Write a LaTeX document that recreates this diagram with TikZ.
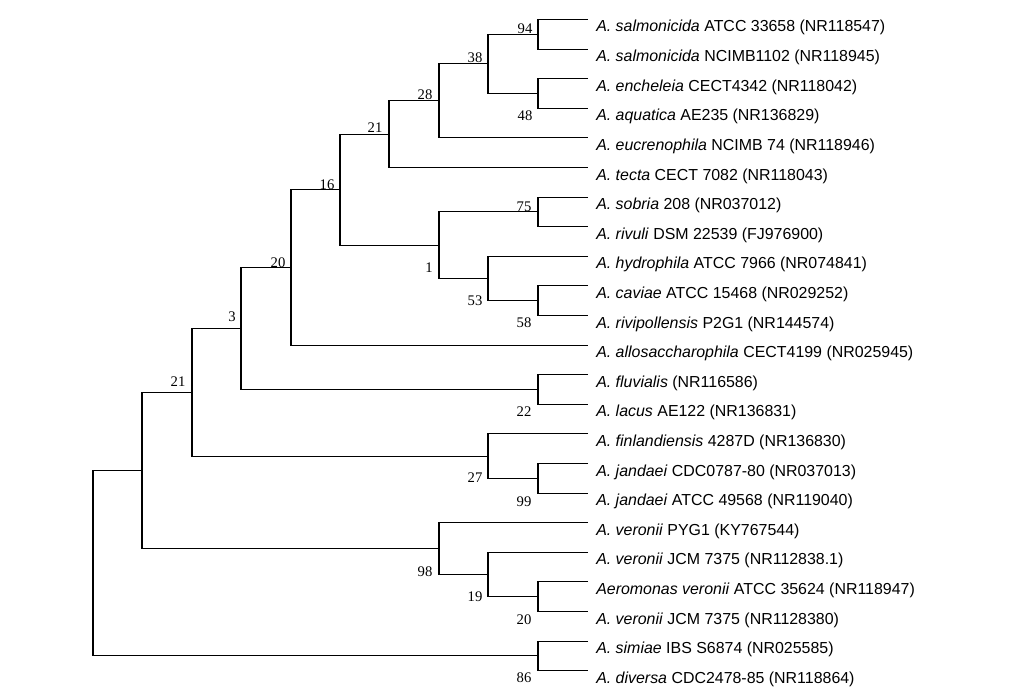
\documentclass[tikz,border=0pt]{standalone}
\usepackage{fontspec}
\setmainfont{Liberation Serif}
\newfontfamily\leaffont{Liberation Sans}
\begin{document}
\begin{tikzpicture}[x=0.75pt,y=-0.75pt,
  leaf/.style={anchor=base west, font=\leaffont\fontsize{11.95}{13}\selectfont, inner sep=0pt},
  bs/.style={font=\fontsize{11}{13}\selectfont, inner sep=0pt},
  branch/.style={draw=black, line width=0.8pt}]
\useasboundingbox (0,0) rectangle (1017,699);
% leaf tips
\foreach \i in {0,...,22} \coordinate (l\i) at (588, 19.5+29.6*\i);
% internal nodes
\coordinate (n94) at (538,34.3);
\coordinate (n48) at (538,93.5);
\coordinate (n38) at (488,63.9);
\coordinate (n28) at (439,100.9);
\coordinate (n21a) at (389,134.2);
\coordinate (n75) at (538,211.9);
\coordinate (n58) at (538,300.7);
\coordinate (n53) at (488,278.5);
\coordinate (n1) at (439,245.2);
\coordinate (n16) at (340,189.7);
\coordinate (n20) at (291,267.4);
\coordinate (n22) at (538,389.5);
\coordinate (n3) at (241,328.5);
\coordinate (n99) at (538,478.3);
\coordinate (n27) at (488,456.1);
\coordinate (n21b) at (192,392.3);
\coordinate (n20b) at (538,596.7);
\coordinate (n19) at (488,574.5);
\coordinate (n98) at (439,548.6);
\coordinate (nL1) at (142,470.4);
\coordinate (n86) at (538,655.9);
\coordinate (root) at (93,563.2);
% branches
\draw[branch] (l0) -| (n94) |- (l1);
\draw[branch] (l2) -| (n48) |- (l3);
\draw[branch] (n94) -| (n38) |- (n48);
\draw[branch] (n38) -| (n28) |- (l4);
\draw[branch] (n28) -| (n21a) |- (l5);
\draw[branch] (l6) -| (n75) |- (l7);
\draw[branch] (l9) -| (n58) |- (l10);
\draw[branch] (l8) -| (n53) |- (n58);
\draw[branch] (n75) -| (n1) |- (n53);
\draw[branch] (n21a) -| (n16) |- (n1);
\draw[branch] (n16) -| (n20) |- (l11);
\draw[branch] (l12) -| (n22) |- (l13);
\draw[branch] (n20) -| (n3) |- (n22);
\draw[branch] (l15) -| (n99) |- (l16);
\draw[branch] (l14) -| (n27) |- (n99);
\draw[branch] (n3) -| (n21b) |- (n27);
\draw[branch] (l19) -| (n20b) |- (l20);
\draw[branch] (l18) -| (n19) |- (n20b);
\draw[branch] (l17) -| (n98) |- (n19);
\draw[branch] (n21b) -| (nL1) |- (n98);
\draw[branch] (l21) -| (n86) |- (l22);
\draw[branch] (nL1) -| (root) |- (n86);
% bootstrap values
\node[bs] (b94) at (525,29) {94};
\node[bs] (b38) at (475,58) {38};
\node[bs] (b28) at (425,95) {28};
\node[bs] (b48) at (525,116) {48};
\node[bs] (b21a) at (375,128) {21};
\node[bs] (b16) at (327,185) {16};
\node[bs] (b75) at (524,207) {75};
\node[bs] (b1) at (429,268) {1};
\node[bs] (b20) at (278,263) {20};
\node[bs] (b53) at (475,301) {53};
\node[bs] (b58) at (524,323) {58};
\node[bs] (b3) at (232,317) {3};
\node[bs] (b21b) at (178,382) {21};
\node[bs] (b22) at (524,412) {22};
\node[bs] (b27) at (475,478) {27};
\node[bs] (b99) at (524,502) {99};
\node[bs] (b98) at (425,572) {98};
\node[bs] (b19) at (475,597) {19};
\node[bs] (b20b) at (524,620) {20};
\node[bs] (b86) at (524,678) {86};
% leaf labels
\path (l0) ++(8,12.5) node[leaf] (t0) {\textit{A. salmonicida} ATCC 33658 (NR118547)};
\path (l1) ++(8,12.5) node[leaf] (t1) {\textit{A. salmonicida} NCIMB1102 (NR118945)};
\path (l2) ++(8,12.5) node[leaf] (t2) {\textit{A. encheleia} CECT4342 (NR118042)};
\path (l3) ++(8,12.5) node[leaf] (t3) {\textit{A. aquatica} AE235 (NR136829)};
\path (l4) ++(8,12.5) node[leaf] (t4) {\textit{A. eucrenophila} NCIMB 74 (NR118946)};
\path (l5) ++(8,12.5) node[leaf] (t5) {\textit{A. tecta} CECT 7082 (NR118043)};
\path (l6) ++(8,12.5) node[leaf] (t6) {\textit{A. sobria} 208 (NR037012)};
\path (l7) ++(8,12.5) node[leaf] (t7) {\textit{A. rivuli} DSM 22539 (FJ976900)};
\path (l8) ++(8,12.5) node[leaf] (t8) {\textit{A. hydrophila} ATCC 7966 (NR074841)};
\path (l9) ++(8,12.5) node[leaf] (t9) {\textit{A. caviae} ATCC 15468 (NR029252)};
\path (l10) ++(8,12.5) node[leaf] (t10) {\textit{A. rivipollensis} P2G1 (NR144574)};
\path (l11) ++(8,12.5) node[leaf] (t11) {\textit{A. allosaccharophila} CECT4199 (NR025945)};
\path (l12) ++(8,12.5) node[leaf] (t12) {\textit{A. fluvialis} (NR116586)};
\path (l13) ++(8,12.5) node[leaf] (t13) {\textit{A. lacus} AE122 (NR136831)};
\path (l14) ++(8,12.5) node[leaf] (t14) {\textit{A. finlandiensis} 4287D (NR136830)};
\path (l15) ++(8,12.5) node[leaf] (t15) {\textit{A. jandaei} CDC0787-80 (NR037013)};
\path (l16) ++(8,12.5) node[leaf] (t16) {\textit{A. jandaei} ATCC 49568 (NR119040)};
\path (l17) ++(8,12.5) node[leaf] (t17) {\textit{A. veronii} PYG1 (KY767544)};
\path (l18) ++(8,12.5) node[leaf] (t18) {\textit{A. veronii} JCM 7375 (NR112838.1)};
\path (l19) ++(8,12.5) node[leaf] (t19) {\textit{Aeromonas veronii} ATCC 35624 (NR118947)};
\path (l20) ++(8,12.5) node[leaf] (t20) {\textit{A. veronii} JCM 7375 (NR1128380)};
\path (l21) ++(8,12.5) node[leaf] (t21) {\textit{A. simiae} IBS S6874 (NR025585)};
\path (l22) ++(8,12.5) node[leaf] (t22) {\textit{A. diversa} CDC2478-85 (NR118864)};
\end{tikzpicture}
\end{document}
